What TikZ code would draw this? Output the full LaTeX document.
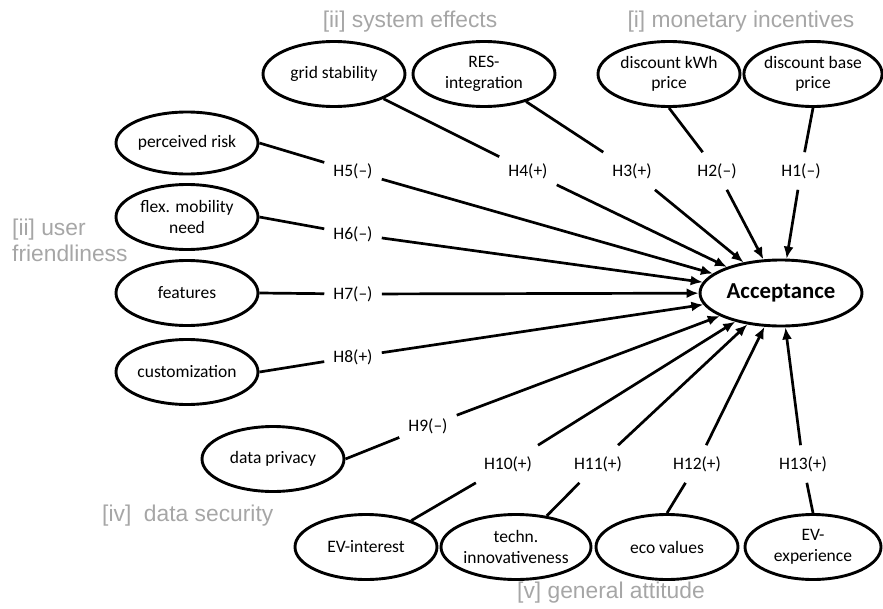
\documentclass[tikz,border=0pt]{standalone}
\usepackage{fontspec}
\setmainfont{Carlito}
\newfontfamily\grayfont{Liberation Sans}
\usetikzlibrary{shapes.geometric,arrows.meta}
\definecolor{grouptext}{RGB}{166,166,166}
\begin{document}
\begin{tikzpicture}[x=1pt,y=-1pt,
  factor/.style={ellipse,draw,line width=2.9pt,minimum width=142pt,minimum height=65pt,inner sep=0pt,align=center,font=\fontsize{17.5}{20.5}\selectfont},
  hyp/.style={rectangle,inner xsep=9pt,inner ysep=11pt,font=\fontsize{17.5}{20.5}\selectfont},
  grouplabel/.style={text=grouptext,font=\grayfont\fontsize{22.8}{26}\selectfont,inner sep=0pt},
  link/.style={line width=2.7pt},
  effect/.style={line width=2.7pt,-{Latex[length=12pt,width=10pt]}}]
\useasboundingbox (0,0) rectangle (883,608);

% group labels
\node[grouplabel] (gsys) at (410,22) {[ii] system effects};
\node[grouplabel] (gmon) at (741,22) {[i] monetary incentives};
\node[grouplabel,align=left,anchor=west] (guser) at (12,240) {[ii] user\\friendliness};
\node[grouplabel,anchor=west] (gdata) at (102,516) {[iv]\ \ data security};
\node[grouplabel] (ggen) at (611,593) {[v] general attitude};

% central construct
\node[factor,minimum width=162pt,minimum height=66pt,font=\bfseries\fontsize{22.8}{26}\selectfont] (acc) at (781,293) {Acceptance};

% factors
\node[factor] (grid) at (334,74) {grid stability};
\node[factor] (res) at (484,74) {RES-\\integration};
\node[factor] (kwh) at (669,74) {discount kWh\\price};
\node[factor,minimum width=136pt] (base) at (813,74) {discount base\\price};
\node[factor,minimum height=62pt] (risk) at (187,143) {perceived risk};
\node[factor] (flex) at (187,217) {flex. mobility\\need};
\node[factor] (feat) at (187,293) {features};
\node[factor] (cust) at (187,372) {customization};
\node[factor] (priv) at (273,459) {data privacy};
\node[factor] (evi) at (366,547) {EV-interest};
\node[factor,minimum width=150pt] (tech) at (516,547) {techn.\\innovativeness};
\node[factor] (eco) at (667,547) {eco values};
\node[factor,minimum width=136pt] (evx) at (813,547) {EV-\\experience};

% hypotheses
\node[hyp] (h1) at (801,171) {H1(–)};
\node[hyp] (h2) at (717,171) {H2(–)};
\node[hyp] (h3) at (632,171) {H3(+)};
\node[hyp] (h4) at (528,171) {H4(+)};
\node[hyp] (h5) at (353,171) {H5(–)};
\node[hyp] (h6) at (353,234) {H6(–)};
\node[hyp] (h7) at (353,294) {H7(–)};
\node[hyp] (h8) at (353,357) {H8(+)};
\node[hyp] (h9) at (428,426) {H9(–)};
\node[hyp] (h10) at (508,464) {H10(+)};
\node[hyp] (h11) at (598,464) {H11(+)};
\node[hyp] (h12) at (697,464) {H12(+)};
\node[hyp] (h13) at (803,464) {H13(+)};

% factor to hypothesis
\draw[link] (grid) -- (h4);
\draw[link] (res) -- (h3);
\draw[link] (kwh.south) -- (h2);
\draw[link] (base.south) -- (h1);
\draw[link] (risk.east) -- (h5);
\draw[link] (flex.east) -- (h6);
\draw[link] (feat.east) -- (h7);
\draw[link] (cust.east) -- (h8);
\draw[link] (priv.east) -- (h9);
\draw[link] (evi) -- (h10);
\draw[link] (tech) -- (h11);
\draw[link] (eco.north) -- (h12);
\draw[link] (evx.north) -- (h13);

% hypothesis to acceptance
\foreach \i in {1,...,13} {\draw[effect] (h\i) -- (acc);}
\end{tikzpicture}
\end{document}
